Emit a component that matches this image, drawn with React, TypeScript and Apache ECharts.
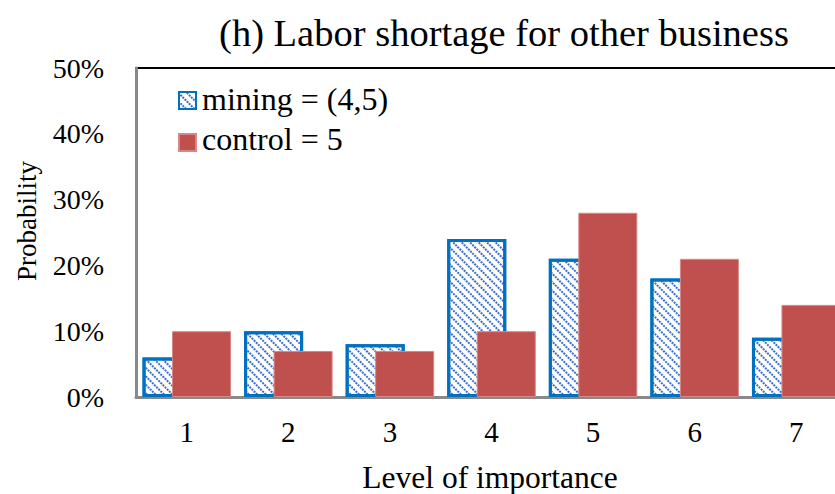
import React, { useEffect, useRef } from "react";
import * as echarts from "echarts";

const categories = ["1", "2", "3", "4", "5", "6", "7"];
const miningValues = [6, 10, 8, 24, 21, 18, 9];
const controlValues = [10, 7, 7, 10, 28, 21, 14];
const seriesNames = ["mining = (4,5)", "control = 5"];
const titleText = "(h) Labor shortage for other business";
const xAxisTitle = "Level of importance";
const yAxisTitle = "Probability";

const FONT = "'Liberation Serif', 'Times New Roman', serif";

export default function App() {
  const ref = useRef<HTMLDivElement>(null);
  useEffect(() => {
    if (!ref.current) return;
    const chart = echarts.init(ref.current, undefined, { renderer: "svg" });
    const txt = (text: string, x: number, y: number, size: number, align: string, vAlign: string, rotation = 0) => ({
      type: "text",
      x,
      y,
      rotation,
      style: {
        text,
        font: `${size}px ${FONT}`,
        fill: "#000",
        textAlign: align,
        textVerticalAlign: vAlign,
      },
    });
    chart.setOption({
      animation: false,
      backgroundColor: "#fff",
      textStyle: { fontFamily: FONT },
      graphic: [
        txt(titleText, 504, 33, 38.5, "center", "middle"),
        txt(yAxisTitle, 27, 221, 27, "center", "middle", Math.PI / 2),
        txt(seriesNames[0], 202, 99, 32, "left", "middle"),
        txt(seriesNames[1], 202, 139, 32, "left", "middle"),
        txt(xAxisTitle, 490, 493, 31.5, "center", "bottom"),
      ],
      legend: {
        orient: "vertical",
        left: 178,
        top: 91,
        padding: 0,
        itemWidth: 17,
        itemHeight: 17,
        itemGap: 23,
        icon: "rect",
        formatter: () => "",
        textStyle: { fontSize: 1 },
        data: seriesNames,
      },
      grid: {
        left: 136,
        top: 68,
        right: 13,
        bottom: 97,
        outerBoundsMode: "none",
        containLabel: false,
        show: true,
        borderColor: "#000",
        borderWidth: 2,
        backgroundColor: "transparent",
      },
      xAxis: {
        type: "category",
        data: categories,
        axisLine: { lineStyle: { color: "#898989", width: 3 } },
        axisTick: { show: false },
        axisLabel: { fontFamily: FONT, fontSize: 29, color: "#000", margin: 20 },
      },
      yAxis: {
        type: "value",
        min: 0,
        max: 50,
        interval: 10,
        axisLine: { show: true, lineStyle: { color: "#898989", width: 3 } },
        axisTick: { show: false },
        splitLine: { show: false },
        axisLabel: {
          fontFamily: FONT,
          fontSize: 28,
          color: "#000",
          margin: 32,
          formatter: "{value}%",
        },
      },
      series: [
        {
          name: seriesNames[0],
          type: "bar",
          data: miningValues,
          barWidth: 59,
          barGap: "-50%",
          itemStyle: {
            color: "#fff",
            borderColor: "#0070C0",
            borderWidth: 3,
            decal: {
              symbol: "rect",
              symbolSize: 1,
              color: "#3A6FC8",
              backgroundColor: "#fff",
              dashArrayX: [2, 1],
              dashArrayY: [2, 4],
              rotation: Math.PI / 4,
            },
          },
        },
        {
          name: seriesNames[1],
          type: "bar",
          data: controlValues,
          barWidth: 59,
          itemStyle: {
            color: "#C0504D",
            borderColor: "#D58886",
            borderWidth: 1,
          },
        },
      ],
    });
    return () => chart.dispose();
  }, []);
  return (
    <div style={{ position: "fixed", left: 0, top: 0, width: 835, height: 494, overflow: "hidden", background: "#fff" }}>
      <div ref={ref} style={{ width: 860, height: 494 }} />
    </div>
  );
}
